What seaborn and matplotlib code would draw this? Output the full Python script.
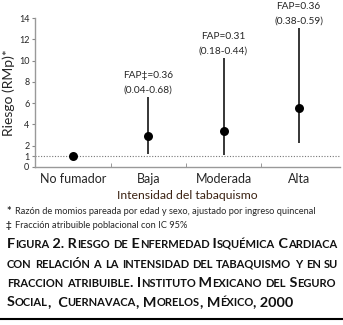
import numpy as np
import pandas as pd
import seaborn as sns
import matplotlib.pyplot as plt
from matplotlib.offsetbox import TextArea, HPacker, AnnotationBbox

# values
categories = ["No fumador", "Baja", "Moderada", "Alta"]
rmp = [1.0, 2.9, 3.4, 5.5]
ci_low = [np.nan, 1.2, 1.1, 2.3]
ci_high = [np.nan, 6.6, 10.2, 13.1]
fap_labels = ["", "FAP\u2021=0.36", "FAP=0.31", "FAP=0.36"]
fap_ci = ["", "(0.04-0.68)", "(0.18-0.44)", "(0.38-0.59)"]
y_ticks = [0, 1, 2, 4, 6, 8, 10, 12, 14]

footnotes = [
    "Raz\u00f3n de momios pareada por edad y sexo, ajustado por ingreso quincenal",
    "Fracci\u00f3n atribuible poblacional con IC 95%",
]
caption = [
    "Figura 2. Riesgo de Enfermedad Isqu\u00e9mica Cardiaca",
    "con relaci\u00f3n a la intensidad del tabaquismo y en su",
    "fraccion atribuible. Instituto Mexicano del Seguro",
    "Social,  Cuernavaca, Morelos, M\u00e9xico, 2000",
]

FONT = ["Lato", "DejaVu Sans"]


def small_caps(text, big, small):
    # split text into runs of (string, size): lowercase -> small uppercase
    runs = []
    for ch in text:
        size = small if ch.islower() else big
        if runs and runs[-1][1] == size:
            runs[-1][0] += ch.upper()
        else:
            runs.append([ch.upper(), size])
    boxes = [TextArea(r, textprops=dict(fontsize=s, fontweight="bold", family=FONT, color="#111111"))
             for r, s in runs]
    return HPacker(children=boxes, align="baseline", pad=0, sep=0)


def main():
    sns.set_style("ticks")
    plt.rcParams["font.family"] = FONT

    df = pd.DataFrame({"cat": categories, "x": range(len(categories)), "rmp": rmp,
                       "lo": ci_low, "hi": ci_high})

    fig = plt.figure(figsize=(3.43, 3.25), dpi=100)
    ax = fig.add_axes([35 / 343, 1 - 167 / 325, (340 - 35) / 343, (167 - 18) / 325])

    ax.axhline(1, color="#777777", lw=0.8, ls=(0, (1, 1.5)), zorder=1)
    ci = df.dropna()
    ax.vlines(ci["x"], ci["lo"], ci["hi"], color="black", lw=1.1, zorder=2)
    sns.scatterplot(data=df, x="x", y="rmp", ax=ax, color="black", s=42,
                    edgecolor="black", linewidth=0, zorder=3, legend=False)

    for i in range(len(categories)):
        if not fap_labels[i]:
            continue
        ax.annotate(fap_ci[i], (i, ci_high[i]), xytext=(0, 7), textcoords="offset pixels",
                    ha="center", va="center", fontsize=7.3, annotation_clip=False)
        ax.annotate(fap_labels[i], (i, ci_high[i]), xytext=(0, 21.5), textcoords="offset pixels",
                    ha="center", va="center", fontsize=7.3, annotation_clip=False)

    ax.set_xlim(-0.51, 3.55)
    ax.set_ylim(0, 14)
    ax.set_yticks(y_ticks)
    ax.set_yticklabels([str(t) for t in y_ticks], fontsize=6.5)
    ax.set_xticks(range(len(categories)))
    ax.set_xticklabels(categories, fontsize=9)
    ax.set_xticks([0.5, 1.5, 2.5], minor=True)
    ax.tick_params(axis="x", which="major", length=0, pad=4)
    ax.tick_params(axis="x", which="minor", length=3, direction="in", color="#888888")
    ax.tick_params(axis="y", length=2, width=0.8, color="#888888", pad=2)
    for side in ["left", "bottom"]:
        ax.spines[side].set_color("#999999")
        ax.spines[side].set_linewidth(1.0)
    sns.despine(ax=ax)

    ax.set_xlabel("Intensidad del tabaquismo", fontsize=8.8, color="#3b2212", labelpad=4)
    ax.set_ylabel("Riesgo (RMp)*", fontsize=10, labelpad=3)

    # footnotes
    fig.text(6 / 343, 1 - 211 / 325, "*", fontsize=8, fontweight="bold", va="center")
    fig.text(15 / 343, 1 - 211 / 325, footnotes[0], fontsize=6.7, va="center")
    fig.text(6 / 343, 1 - 225 / 325, "\u2021", fontsize=7, fontweight="bold", va="center")
    fig.text(15 / 343, 1 - 225 / 325, footnotes[1], fontsize=6.7, va="center")

    # caption in small caps
    for k, line in enumerate(caption):
        box = small_caps(line, 10.4, 8.0)
        ab = AnnotationBbox(box, (7, 325 - (244 + 19.5 * k)), xycoords="figure pixels",
                            box_alignment=(0, 0.5), frameon=False, pad=0)
        fig.add_artist(ab)

    fig.add_artist(plt.Line2D([0, 1], [1 - 319 / 325] * 2, color="black", lw=1.5,
                              transform=fig.transFigure))

    fig.savefig("out.png", dpi=100)


main()
